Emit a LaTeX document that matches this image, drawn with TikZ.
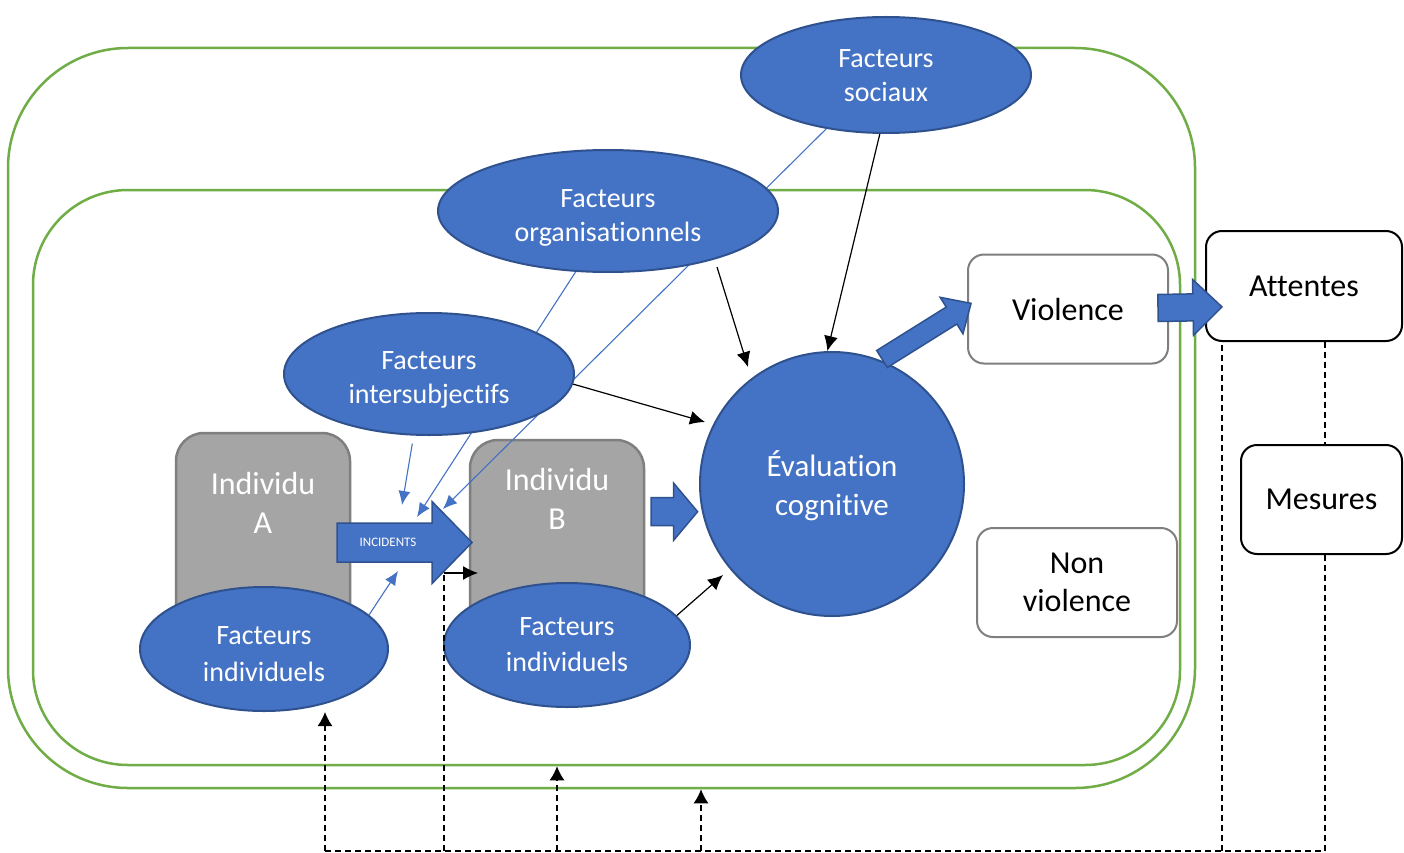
\documentclass[tikz,border=0pt]{standalone}
\usepackage{fontspec}
\setmainfont{Carlito}[Ligatures=NoCommon]
\usetikzlibrary{shapes.geometric,arrows.meta}
\definecolor{bluefill}{HTML}{4472C4}
\definecolor{blueline}{HTML}{2F528F}
\definecolor{greenline}{HTML}{70AD47}
\definecolor{grayfill}{HTML}{A5A5A5}
\definecolor{grayline}{HTML}{7F7F7F}
\pgfdeclarelayer{back}
\pgfdeclarelayer{mid}
\pgfsetlayers{back,mid,main}
% #1,#2 tail centre, #3 angle, #4 body length, #5 body half width, #6 head length, #7 head half width
\newcommand{\blockarr}[7]{\draw[blockarrow, shift={(#1,#2)}, rotate=#3] (0,-#5) -- (#4,-#5) -- (#4,-#7) -- ({#4+#6},0) -- (#4,#7) -- (#4,#5) -- (0,#5) -- cycle;}
\begin{document}
\begin{tikzpicture}[x=1pt,y=-1pt,
  ell/.style={ellipse, fill=bluefill, draw=blueline, line width=2pt, inner sep=0pt},
  etext/.style={text=white, align=center, inner sep=0pt, font=\fontsize{28}{34}\selectfont},
  indbox/.style={rectangle, rounded corners=28pt, fill=grayfill, draw=grayline, line width=2.5pt, inner sep=0pt},
  indtext/.style={text=white, align=center, font=\fontsize{32}{39}\selectfont},
  whitebox/.style={rectangle, rounded corners=16pt, fill=white, draw=grayline, line width=2pt, inner sep=0pt, align=center, font=\fontsize{32}{38}\selectfont},
  blackbox/.style={whitebox, draw=black},
  greenbox/.style={rectangle, draw=greenline, line width=2.5pt, inner sep=0pt},
  blueconn/.style={draw=bluefill, line width=1.1pt, -{Latex[length=14pt,width=12pt]}},
  blackconn/.style={draw=black, line width=1.2pt, -{Latex[length=15pt,width=14pt]}},
  dashconn/.style={draw=black, line width=1.4pt, dash pattern=on 6pt off 4pt},
  dashtip/.style={dashconn, -{Latex[length=14pt,width=15pt]}},
  blockarrow/.style={fill=bluefill, draw=blueline, line width=1.5pt, line join=miter}]
\useasboundingbox (0,0) rectangle (1404,853);

\begin{pgfonlayer}{back}
  \fill[white] (0,0) rectangle (1404,853);
  \node[greenbox, rounded corners=120pt, minimum width=1187pt, minimum height=740pt] (outer) at (601.5,418) {};
  \node[greenbox, rounded corners=95pt, minimum width=1147pt, minimum height=575pt] (inner) at (606.5,477.5) {};
  \node[indbox, minimum width=174pt, minimum height=207pt] (indA) at (263,536.5) {};
  \node[indbox, minimum width=174pt, minimum height=200pt] (indB) at (557,540) {};
  \node[indtext] (indAt) at (263,503) {Individu\\A};
  \node[indtext] (indBt) at (557,499) {Individu\\B};
\end{pgfonlayer}

% ellipses and circle
\node[ell, minimum width=290pt, minimum height=116pt, label={[etext, yshift=-1pt]center:{Facteurs\\sociaux}}] (soc) at (886,75) {};
\node[ell, minimum width=340pt, minimum height=122pt, label={[etext, yshift=-7pt]center:{Facteurs\\organisationnels}}] (org) at (608,211) {};
\node[ell, minimum width=290pt, minimum height=122pt, label={[etext, yshift=-6pt]center:{Facteurs\\intersubjectifs}}] (inter) at (429,374) {};
\node[ell, minimum width=248pt, minimum height=124pt, label={[etext, yshift=-5pt, font=\fontsize{28}{37}\selectfont]center:{Facteurs\\individuels}}] (fiA) at (264,649) {};
\node[ell, minimum width=246pt, minimum height=124pt, label={[etext, font=\fontsize{28}{36}\selectfont]center:{Facteurs\\individuels}}] (fiB) at (567,645) {};
\node[circle, fill=bluefill, draw=blueline, line width=2pt, text=white, align=center, inner sep=0pt, minimum size=264pt, font=\fontsize{31}{39}\selectfont, label={[text=white, align=center, font=\fontsize{31}{39}\selectfont, yshift=-2pt]center:{Évaluation\\cognitive}}] (eval) at (832,484) {};

% boxes
\node[whitebox, minimum width=200pt, minimum height=109pt] (viol) at (1068,309) {Violence};
\node[whitebox, minimum width=200pt, minimum height=109pt] (nonv) at (1077,582.5) {Non\\violence};
\node[blackbox, minimum width=196pt, minimum height=110pt] (att) at (1304,286) {Attentes};
\node[blackbox, minimum width=161pt, minimum height=109pt] (mes) at (1321.5,499.5) {Mesures};

% block arrows
\blockarr{337}{542.5}{0}{95}{19.5}{40}{41}
\node[text=white, font=\fontsize{13}{15}\selectfont] (inc) at (388,542.5) {INCIDENTS};
\blockarr{651}{511.7}{0}{22.6}{14}{24}{28.6}
\blockarr{882}{359}{32}{82}{10}{23}{21.5}
\blockarr{1158}{308}{1}{35}{13.5}{29}{28}

% coordinates for free ends
\coordinate (c1) at (443,509);
\coordinate (c2) at (417,517);
\coordinate (c3) at (402,505);
\coordinate (c4) at (398,571);
\coordinate (s1) at (717,267);
\coordinate (e1) at (748,367);
\coordinate (e3) at (705,422);
\coordinate (e4) at (723,575);

\begin{pgfonlayer}{mid}
  \draw[blueconn] (soc.222) -- (c1);
  \draw[blueconn] (org.242) -- (c2);
  \draw[blueconn, shorten <=8pt] (inter.256) -- (c3);
  \draw[blueconn] (fiA.18) -- (c4);
\end{pgfonlayer}

\draw[blackconn] (s1) -- (e1);
\draw[blackconn] (soc.264) -- (eval.92);
\draw[blackconn] (inter.-4) -- (e3);
\draw[blackconn] (fiB.15) -- (e4);

% dashed feedback lines
\coordinate (b1) at (325,851);
\coordinate (b2) at (444,851);
\coordinate (b3) at (557,851);
\coordinate (b4) at (701,851);
\coordinate (b5) at (1222,851);
\coordinate (b6) at (1325,851);
\coordinate (k) at (444,573);
\draw[dashconn] (b1) -- (b6);
\draw[dashtip] (b1) -- (fiA.south -| b1);
\draw[dashconn] (b2) -- (k);
\draw[blackconn] (k) -- ++(34,0);
\draw[dashtip] (b3) -- (inner.south -| b3);
\draw[dashtip] (b4) -- (outer.south -| b4);
\draw[dashconn] (b5) -- (att.south -| b5);
\draw[dashconn] (b6) -- (mes.south -| b6);
\draw[dashconn] (att.south -| b6) -- (mes.north -| b6);
\end{tikzpicture}
\end{document}
